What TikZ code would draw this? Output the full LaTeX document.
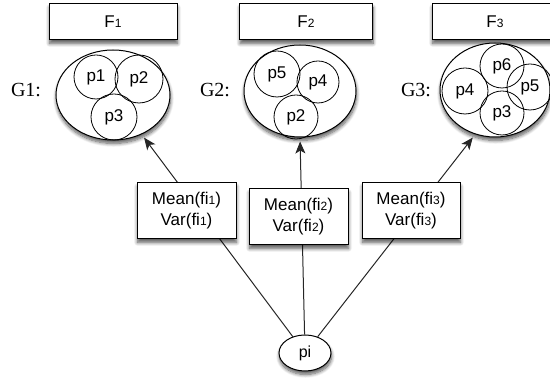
\documentclass[tikz,border=0pt]{standalone}
\usepackage{fontspec}
\setmainfont{Liberation Sans}
\newfontfamily\serifG{Liberation Serif}
\usetikzlibrary{shapes.geometric,shadows.blur,arrows.meta,backgrounds}
\newcommand{\dg}[1]{{\fontsize{12}{12}\selectfont #1}}
\begin{document}
\begin{tikzpicture}[x=1pt,y=1pt,
  shd/.style={blur shadow={shadow xshift=0.5pt,shadow yshift=-3.5pt,shadow blur steps=8,shadow blur radius=3.5pt,shadow opacity=65}},
  fbox/.style={draw=black,line width=1pt,fill=white,minimum width=128pt,minimum height=36pt,inner sep=0pt,font=\fontsize{17}{17}\selectfont,shd},
  grp/.style={ellipse,draw=black,line width=1pt,fill=white,inner sep=0pt,shd},
  pc/.style={circle,draw=black,line width=0.8pt,inner sep=0pt,font=\fontsize{17}{17}\selectfont},
  glab/.style={font=\serifG\fontsize{20}{20}\selectfont,inner sep=0pt},
  mbox/.style={draw=black,line width=1pt,fill=white,minimum width=99pt,minimum height=56pt,inner sep=0pt,align=center,font=\fontsize{17}{21}\selectfont,shd},
  conn/.style={draw=black!85,line width=1pt},
  arr/.style={conn,-{Stealth[length=12pt,width=10pt,inset=3pt]},shorten >=4pt}
]
\useasboundingbox (0,0) rectangle (550,387);
% top boxes
\node[fbox] (F1) at (113,365) {F\dg{1}};
\node[fbox,minimum width=133pt] (F2) at (306,365) {F\dg{2}};
\node[fbox,minimum width=126pt] (F3) at (495,365) {F\dg{3}};
% groups
\node[grp,minimum width=114pt,minimum height=90pt] (G1) at (113,292) {};
\node[grp,minimum width=112pt,minimum height=92pt] (G2) at (300,296) {};
\node[grp,minimum width=110pt,minimum height=94pt] (G3) at (495,297) {};
\node[glab] (L1) at (26,297) {G1:};
\node[glab] (L2) at (215,297) {G2:};
\node[glab] (L3) at (416,297) {G3:};
% circles G1
\node[pc,minimum size=44pt] (a1) at (96,310) {p1};
\node[pc,minimum size=48pt] (a2) at (139,308) {p2};
\node[pc,minimum size=46pt] (a3) at (114,270) {p3};
% circles G2
\node[pc,minimum size=46pt] (b5) at (277,313) {p5};
\node[pc,minimum size=42pt] (b4) at (318,305) {p4};
\node[pc,minimum size=44pt] (b2) at (296,270) {p2};
% circles G3
\node[pc,minimum size=44pt] (c6) at (502,321) {p6};
\node[pc,minimum size=46pt] (c4) at (465,296) {p4};
\node[pc,minimum size=46pt] (c5) at (530,300) {p5};
\node[pc,minimum size=44pt] (c3) at (502,274) {p3};
% mean boxes
\node[mbox] (M1) at (186.5,176) {Mean(fi\dg{1})\\Var(fi\dg{1})};
\node[mbox] (M2) at (298.5,170) {Mean(fi\dg{2})\\Var(fi\dg{2})};
\node[mbox,minimum width=98pt] (M3) at (411,176) {Mean(fi\dg{3})\\Var(fi\dg{3})};
% pi
\node[grp,minimum width=52pt,minimum height=36pt,font=\fontsize{16}{16}\selectfont] (pi) at (305,34) {pi};
\begin{pgfonlayer}{background}
\draw[arr] (pi) -- (G1.306);
\draw[arr] (pi) -- (G2.270);
\draw[arr] (pi) -- (G3.246);
\end{pgfonlayer}
\end{tikzpicture}
\end{document}
